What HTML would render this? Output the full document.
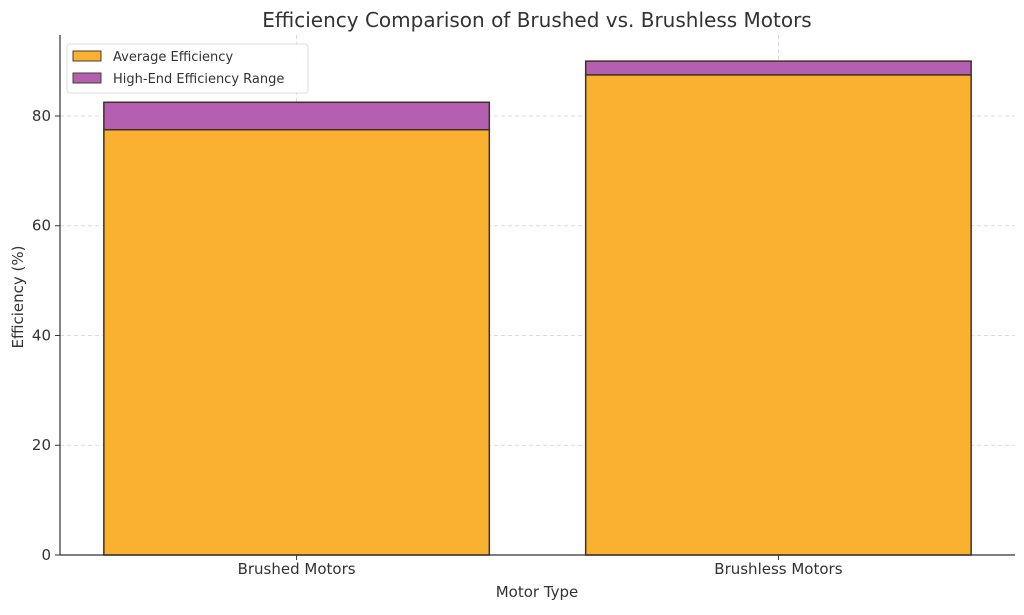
<!DOCTYPE html>
<html><head><meta charset="utf-8"><style>
body{margin:0;background:#fff;font-family:"DejaVu Sans","Liberation Sans",sans-serif;}
svg text{font-family:"DejaVu Sans","Liberation Sans",sans-serif;fill:#333;}
</style></head><body>
<svg id="chart" width="1024" height="611" viewBox="0 0 1024 611">
<text x="537" y="27" text-anchor="middle" font-size="20">Efficiency Comparison of Brushed vs. Brushless Motors</text>
<g id="grid"></g>
<g id="bars"></g>
<g id="axes"></g>
<text x="537" y="597" text-anchor="middle" font-size="15">Motor Type</text>
<text transform="translate(23,297) rotate(-90)" text-anchor="middle" font-size="15">Efficiency (%)</text>
<g>
<rect x="67" y="44" width="241" height="49" rx="3" fill="#fff" fill-opacity="0.85" stroke="#ddd"/>
<g>
<rect x="73" y="51" width="28" height="10" fill="#fbb130" stroke="#4a3b30" stroke-width="1"/>
<text x="113" y="61" font-size="13">Average Efficiency</text></g>
<g>
<rect x="73" y="73" width="28" height="10" fill="#b45fb0" stroke="#4a3b30" stroke-width="1"/>
<text x="113" y="83" font-size="13">High-End Efficiency Range</text></g>
</g>
</svg>
<script>
const categories = ["Brushed Motors", "Brushless Motors"];
const averageValues = [77.5, 87.5];
const highEndValues = [82.5, 90];
const yTicks = [0, 20, 40, 60, 80];

const NS = "http://www.w3.org/2000/svg";
const plotLeft = 60, plotRight = 1015, plotBottom = 555, plotTop = 35;
const yMin = 0, yMax = 94.76, xMin = -0.491, xMax = 1.491;
function yScale(v){ return plotBottom - (v - yMin) / (yMax - yMin) * (plotBottom - plotTop); }
function xScale(v){ return plotLeft + (v - xMin) / (xMax - xMin) * (plotRight - plotLeft); }
function mk(tag, attrs, parent){ const e = document.createElementNS(NS, tag); for (const k in attrs) e.setAttribute(k, attrs[k]); parent.appendChild(e); return e; }

const gridG = document.getElementById("grid");
const barsG = document.getElementById("bars");
const axesG = document.getElementById("axes");

yTicks.forEach(t => {
  const gl = mk("line", {x1: plotLeft, x2: plotRight, y1: yScale(t), y2: yScale(t), stroke: "#d0d0d0", "stroke-dasharray": "4,3", "stroke-width": 0.8}, gridG);
  
  
  const tk = mk("line", {x1: plotLeft - 5, x2: plotLeft, y1: yScale(t), y2: yScale(t), stroke: "#333"}, axesG);
  
  
  const lb = mk("text", {x: plotLeft - 9, y: yScale(t) + 5, "text-anchor": "end", "font-size": 15}, axesG);
  lb.textContent = t;
  
  
});
categories.forEach((c, i) => {
  const gl = mk("line", {x1: xScale(i), x2: xScale(i), y1: plotTop, y2: plotBottom, stroke: "#d0d0d0", "stroke-dasharray": "4,3", "stroke-width": 0.8}, gridG);
  
  
  const w = 0.8 * (xScale(1) - xScale(0));
  const bx = xScale(i) - w / 2;
  const avg = mk("rect", {x: bx, y: yScale(averageValues[i]), width: w, height: yScale(0) - yScale(averageValues[i]), fill: "#fbb130", stroke: "#3d3228", "stroke-width": 1.5}, barsG);
  
  
  const hi = mk("rect", {x: bx, y: yScale(highEndValues[i]), width: w, height: yScale(averageValues[i]) - yScale(highEndValues[i]), fill: "#b45fb0", stroke: "#3d3228", "stroke-width": 1.5}, barsG);
  
  
  const tk = mk("line", {x1: xScale(i), x2: xScale(i), y1: plotBottom, y2: plotBottom + 5, stroke: "#333"}, axesG);
  
  
  const lb = mk("text", {x: xScale(i), y: plotBottom + 19, "text-anchor": "middle", "font-size": 15}, axesG);
  lb.textContent = c;
  
  
});
const ya = mk("line", {x1: plotLeft, x2: plotLeft, y1: plotTop, y2: plotBottom, stroke: "#333", "stroke-width": 1.2}, axesG);


const xa = mk("line", {x1: plotLeft, x2: plotRight, y1: plotBottom, y2: plotBottom, stroke: "#333", "stroke-width": 1.2}, axesG);


</script>
</body></html>
